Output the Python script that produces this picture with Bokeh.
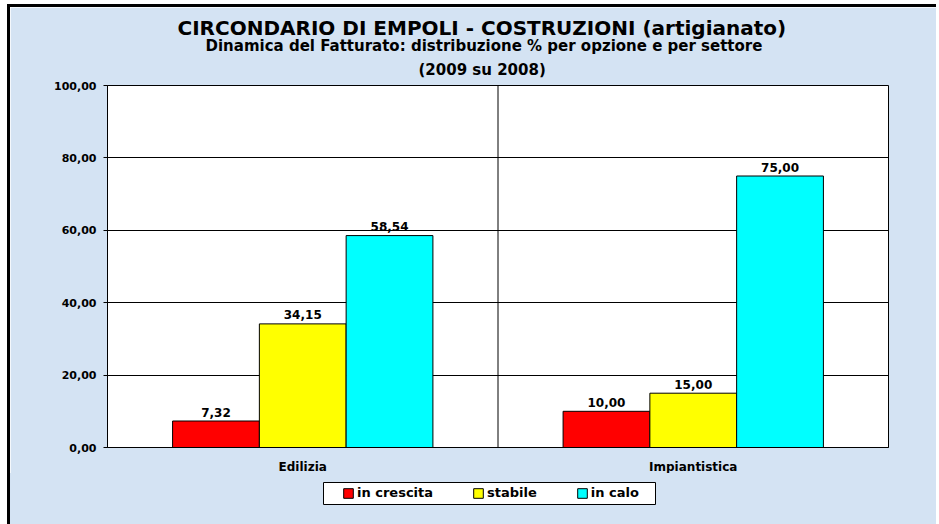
from bokeh.plotting import figure
from bokeh.layouts import column
from bokeh.models import (ColumnDataSource, FactorRange, Range1d, FixedTicker, Span,
                          Legend, LegendItem, Title, BoxAnnotation)
from bokeh.transform import dodge
from bokeh.core.properties import value
from bokeh.embed import file_html
from bokeh.resources import INLINE

# ---- data ----
categories = ["Edilizia", "Impiantistica"]
series_names = ["in crescita", "stabile", "in calo"]
in_crescita = [7.32, 10.00]
stabile = [34.15, 15.00]
in_calo = [58.54, 75.00]
series_colors = ["#ff0000", "#ffff00", "#00ffff"]
y_ticks = [0, 20, 40, 60, 80, 100]
y_tick_labels = ["0,00", "20,00", "40,00", "60,00", "80,00", "100,00"]
title_text = "CIRCONDARIO DI EMPOLI - COSTRUZIONI (artigianato)"
subtitle_text = "Dinamica del Fatturato: distribuzione % per opzione e per settore"
period_text = "(2009 su 2008)"

FONT = "DejaVu Sans"
BG = "#d4e3f3"
W, H = 929, 469
ML, MR, MT, MB = 97, 51, 78, 29

p = figure(width=W, height=H, x_range=FactorRange(factors=categories),
           y_range=Range1d(0, 100), output_backend="svg", toolbar_location=None,
           title=None, min_border_left=ML, min_border_right=MR,
           min_border_top=MT, min_border_bottom=MB)
p.styles = {"margin-left": "7px", "margin-top": "4px",
            "border-left": "3px solid black", "border-top": "3px solid black"}
p.border_fill_color = BG
p.background_fill_color = "white"
p.outline_line_color = "black"
p.outline_line_width = 1

fmt = lambda vals: [f"{v:.2f}".replace(".", ",") for v in vals]
src = ColumnDataSource(dict(cat=categories, a=in_crescita, b=stabile, c=in_calo,
                            la=fmt(in_crescita), lb=fmt(stabile), lc=fmt(in_calo)))

bw = 2.0 / 9.0
offsets = [-bw, 0.0, bw]
for col, lab, off, color in zip(["a", "b", "c"], ["la", "lb", "lc"], offsets, series_colors):
    p.vbar(x=dodge("cat", off, range=p.x_range), top=col, width=bw, source=src,
           fill_color=color, line_color="black", line_width=1)
    p.text(x=dodge("cat", off, range=p.x_range), y=col, text=lab, source=src,
           text_align="center", text_baseline="alphabetic", y_offset=-9,
           text_font=value(FONT), text_font_style="bold", text_font_size="12px",
           text_color="black")

# separator between categories
p.add_layout(Span(location=1.0, dimension="height", line_color="black", line_width=1))

# axes
p.yaxis.ticker = FixedTicker(ticks=y_ticks)
p.yaxis.major_label_overrides = {t: l for t, l in zip(y_ticks, y_tick_labels)}
p.yaxis.major_label_text_font = FONT
p.yaxis.major_label_text_font_style = "bold"
p.yaxis.major_label_text_font_size = "11px"
p.yaxis.major_label_text_color = "black"
p.yaxis.major_tick_out = 4
p.yaxis.major_tick_in = 0
p.yaxis.minor_tick_line_color = None
p.yaxis.major_label_standoff = 7
p.yaxis.axis_line_color = "black"
p.yaxis.major_tick_line_color = "black"

p.xaxis.major_label_text_font = FONT
p.xaxis.major_label_text_font_style = "bold"
p.xaxis.major_label_text_font_size = "12px"
p.xaxis.major_label_text_color = "black"
p.xaxis.major_tick_line_color = None
p.xaxis.major_tick_out = 0
p.xaxis.major_label_standoff = 12
p.xaxis.axis_line_color = "black"

p.xgrid.grid_line_color = None
p.ygrid.grid_line_color = "black"
p.ygrid.grid_line_width = 1

# titles: added nearest-first
for txt, off, stand, size in [(period_text, 311, 13, "15px"),
                              (subtitle_text, 98, -5, "15px"),
                              (title_text, 70, -5, "20px")]:
    p.add_layout(Title(text=txt, align="left", offset=off, standoff=stand,
                       text_font=FONT, text_font_style="bold", text_font_size=size,
                       text_color="black"), "above")

# ---- legend strip (second canvas below the chart) ----
LH = 52
q = figure(width=W, height=LH, x_range=Range1d(0, 1), y_range=Range1d(0, 1),
           output_backend="svg", toolbar_location=None, title=None,
           x_axis_location=None, y_axis_location=None,
           min_border_left=ML, min_border_right=MR, min_border_top=0, min_border_bottom=0)
q.styles = {"margin-left": "7px", "border-left": "3px solid black",
            "background-color": BG}
q.border_fill_alpha = 0
q.background_fill_alpha = 0
q.outline_line_color = None
q.xgrid.grid_line_color = None
q.ygrid.grid_line_color = None

# legend proxies (zero-size, only their styles are used by the legend)
proxies = [q.vbar(x=[0], top=[0], bottom=[0], width=0, fill_color=c,
                  line_color="black", line_width=1) for c in series_colors]

q.add_layout(BoxAnnotation(left=216, right=548, bottom=21, top=43,
                           left_units="screen", right_units="screen",
                           bottom_units="screen", top_units="screen",
                           fill_color="white", fill_alpha=1,
                           line_color="black", line_width=1, line_alpha=1))

legend = Legend(items=[LegendItem(label=n, renderers=[r]) for n, r in zip(series_names, proxies)],
                orientation="horizontal", location=(235, 25),
                padding=0, margin=0, spacing=39, glyph_width=12, glyph_height=12,
                label_standoff=3, label_height=14,
                label_text_font=FONT, label_text_font_style="bold",
                label_text_font_size="13px", label_text_color="black",
                border_line_alpha=0, background_fill_alpha=0)
q.add_layout(legend, "center")

root = column(p, q, spacing=0)

with open("out.html", "w") as f:
    f.write(file_html(root, INLINE))
